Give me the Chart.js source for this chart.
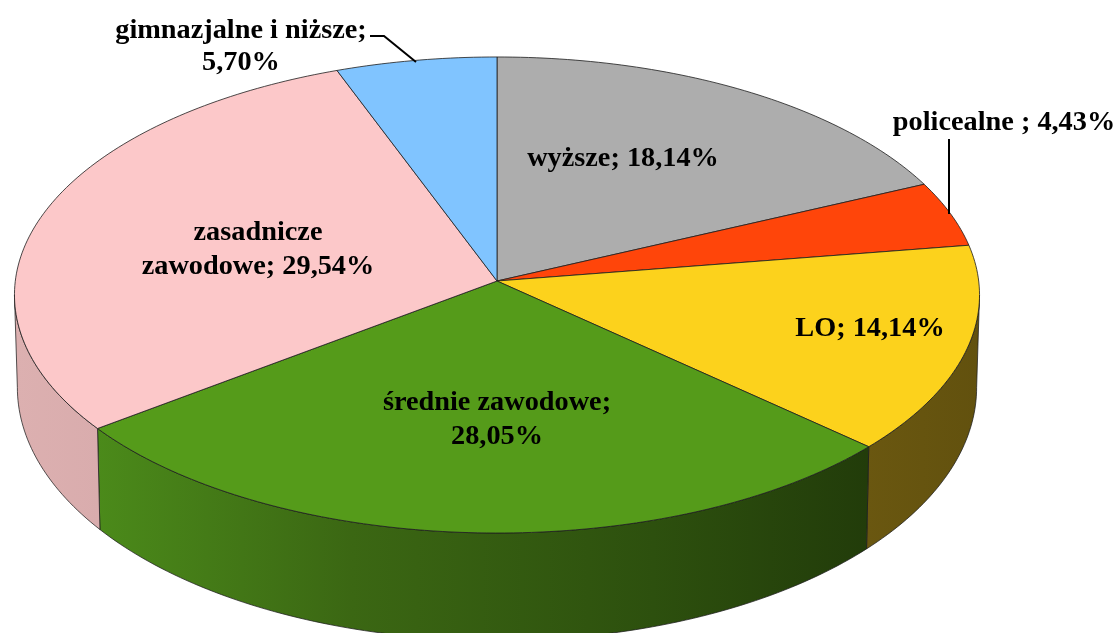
<!DOCTYPE html>
<html lang="pl">
<head>
<meta charset="utf-8">
<title>Wykształcenie</title>
<script src="https://cdn.jsdelivr.net/npm/chart.js@4/dist/chart.umd.js"></script>
<style>
html,body{margin:0;padding:0;background:#fff;overflow:hidden}
#box{width:1117px;height:633px;position:relative}
canvas{display:block;filter:blur(0.5px)}
</style>
</head>
<body>
<div id="box"><canvas id="c" width="1117" height="633"></canvas></div>
<script>
const categories = ['wyższe', 'policealne', 'LO', 'średnie zawodowe', 'zasadnicze zawodowe', 'gimnazjalne i niższe'];
const values = [18.14, 4.43, 14.14, 28.05, 29.54, 5.70];
const topColors = ['#ADADAD', '#FF450A', '#FCD21C', '#559B1A', '#FCC8C9', '#80C4FF'];
const sideStops = [
  [[0, '#6b6b6b'], [1, '#6b6b6b']],
  [[0, '#9c2a06'], [1, '#9c2a06']],
  [[0, '#6a5710'], [1, '#62510e']],
  [[0, '#4b8a1a'], [0.33, '#3b6713'], [0.72, '#2d500e'], [1, '#223c0a']],
  [[0, '#dcb0b0'], [1, '#d9acad']],
  [[0, '#4f7a9f'], [1, '#4f7a9f']]
];
const labelLines = [
  ['wyższe; 18,14%'],
  ['policealne ; 4,43%'],
  ['LO; 14,14%'],
  ['średnie zawodowe;', '28,05%'],
  ['zasadnicze', 'zawodowe; 29,54%'],
  ['gimnazjalne i niższe;', '5,70%']
];
const labelAnchors = [[623,166],[1004,130],[870,336],[497,410],[258,240],[241,38]];
const lineGaps = [34,34,34,34,34,32];
const leaders = [
  [[949,139],[949,214]],
  [[370,36],[384,36],[416,62]]
];

// projection of the pie plane: apex, radii, perspective
const P = {cx:497, cy:281, A:481.7, B:237.2, k:0.0588, depth:91.4, depthSlope:16, shrink:0.994};
const STEP = Math.PI/180;
// outline tangents: the wall is only seen between these two directions
const VISIBLE = [Math.PI/2 + 0.059, Math.PI*1.5 - 0.059];

function topPoint(a){
  const u = Math.sin(a), v = -Math.cos(a), w = 1 - P.k*v;
  return [P.cx + P.A*u/w, P.cy + P.B*v/w];
}
function lowPoint(a){
  const t = topPoint(a), v = -Math.cos(a);
  return [P.cx + (t[0]-P.cx)*P.shrink, t[1] + P.depth + P.depthSlope*v];
}
function arcPoints(fn, a0, a1){
  const pts = [], n = Math.max(2, Math.ceil((a1-a0)/STEP));
  for(let i=0;i<=n;i++) pts.push(fn(a0+(a1-a0)*i/n));
  return pts;
}
function trace(ctx, pts, start){
  pts.forEach((p,i)=>{ if(i===0 && start) ctx.moveTo(p[0],p[1]); else ctx.lineTo(p[0],p[1]); });
}

const piePlugin = {
  id:'pie3d',
  beforeDatasetsDraw(chart){
    const ctx = chart.ctx, arcs = chart.getDatasetMeta(0).data;
    ctx.save();
    ctx.lineJoin = 'round';
    // side walls
    arcs.forEach((el,i)=>{
      const a0 = Math.max(el.startAngle + Math.PI/2, VISIBLE[0]);
      const a1 = Math.min(el.endAngle + Math.PI/2, VISIBLE[1]);
      if(a1 <= a0) return;
      const upper = arcPoints(topPoint,a0,a1), lower = arcPoints(lowPoint,a0,a1);
      const xs = upper.map(p=>p[0]).concat(lower.map(p=>p[0]));
      const g = ctx.createLinearGradient(Math.min(...xs),0,Math.max(...xs),0);
      sideStops[i].forEach(s=>g.addColorStop(s[0],s[1]));
      ctx.beginPath();
      trace(ctx,upper,true);
      trace(ctx,lower.slice().reverse(),false);
      ctx.closePath();
      ctx.fillStyle = g; ctx.fill();
      ctx.strokeStyle = 'rgba(30,30,30,0.75)'; ctx.lineWidth = 1; ctx.stroke();
    });
    // top faces
    arcs.forEach((el,i)=>{
      const a0 = el.startAngle + Math.PI/2, a1 = el.endAngle + Math.PI/2;
      ctx.beginPath();
      ctx.moveTo(P.cx,P.cy);
      trace(ctx,arcPoints(topPoint,a0,a1),false);
      ctx.closePath();
      ctx.fillStyle = el.options.backgroundColor; ctx.fill();
      ctx.strokeStyle = 'rgba(30,30,30,0.8)'; ctx.lineWidth = 1; ctx.stroke();
    });
    // leader lines
    ctx.strokeStyle = '#000'; ctx.lineWidth = 2; ctx.lineJoin = 'miter';
    leaders.forEach(l=>{ ctx.beginPath(); trace(ctx,l,true); ctx.stroke(); });
    // labels
    ctx.fillStyle = '#000';
    ctx.font = 'bold 28.3px "Liberation Serif"';
    ctx.textAlign = 'center'; ctx.textBaseline = 'alphabetic';
    labelLines.forEach((lines,i)=>{
      lines.forEach((t,j)=>ctx.fillText(t,labelAnchors[i][0],labelAnchors[i][1]+j*lineGaps[i]));
    });
    ctx.restore();
    return false;
  }
};

new Chart(document.getElementById('c'),{
  type:'pie',
  data:{labels:categories,datasets:[{data:values,backgroundColor:topColors,borderWidth:0}]},
  options:{
    responsive:false,animation:false,
    plugins:{legend:{display:false},tooltip:{enabled:false}}
  },
  plugins:[piePlugin]
});
</script>
</body>
</html>
